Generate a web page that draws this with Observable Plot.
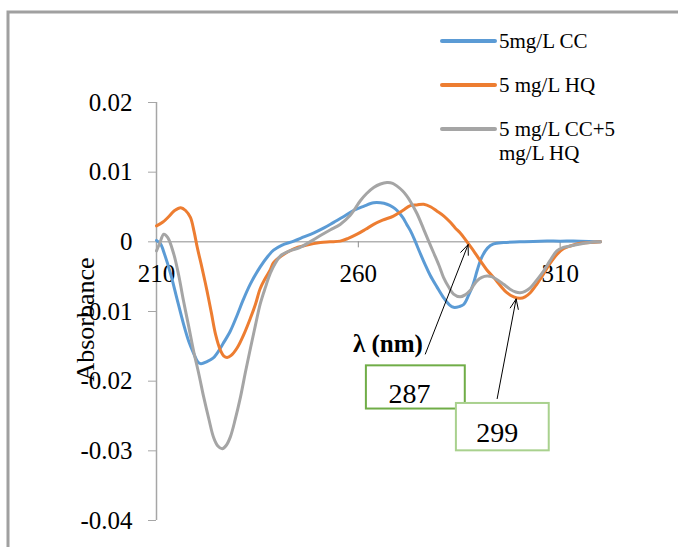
<!DOCTYPE html>
<html><head><meta charset="utf-8">
<script src="https://cdn.jsdelivr.net/npm/d3@7"></script>
<script src="https://cdn.jsdelivr.net/npm/@observablehq/plot@0.6"></script>
<style>
body{margin:0;background:#fff}
#chart{width:678px;height:547px;overflow:hidden}
</style>
</head><body><div id="chart"></div>
<script>
// ---- Data ----
const seriesNames = ["5mg/L CC", "5 mg/L HQ", "5 mg/L CC+5 mg/L HQ"];
const legendLines = [["5mg/L CC"], ["5 mg/L HQ"], ["5 mg/L CC+5", "mg/L HQ"]];
const seriesColors = ["#5B9BD5", "#ED7D31", "#A5A5A5"];

const ccWavelength = [210,211,212,213.5,215,216.7,218,219.2,220.2,221,222.5,224,225,226.5,228.3,230,231.5,233.3,235.7,237.7,239,241,244,246.5,249,251.5,253.9,256.3,258.8,261.3,263.8,265.5,267.1,268.5,269.6,271,272,272.9,274,275.3,276.5,277.8,279.5,281.1,282.5,283.6,285,286.1,287.3,288.5,289.5,290.6,292,293.5,296,300,305,310,315,320];
const ccAbsorbance = [0.0002,-0.0003,-0.0018,-0.0046,-0.008,-0.0118,-0.0143,-0.016,-0.0172,-0.0175,-0.0172,-0.0167,-0.016,-0.0146,-0.0128,-0.0105,-0.0083,-0.006,-0.0036,-0.002,-0.0012,-0.0005,0.0001,0.0007,0.0013,0.002,0.0028,0.0036,0.0045,0.0051,0.0056,0.0056,0.0054,0.005,0.0045,0.0035,0.0025,0.0016,0.0002,-0.0016,-0.0032,-0.0048,-0.0065,-0.008,-0.009,-0.0094,-0.0093,-0.009,-0.0077,-0.006,-0.004,-0.0022,-0.0009,-0.0003,-0.0001,0,0.0001,0.0001,0.0001,0];

const hqWavelength = [210,211.5,213,214.5,216,217.2,218.4,219.3,220.1,221.3,222.5,223.6,224.6,225.8,226.7,227.5,228.5,230,231.7,233.3,234.5,235.7,237,238.2,239,241,244,247,250.6,253,255.5,257.5,259.7,261.8,263.8,266,268.7,271,272.9,274.5,276.2,278,279.5,281.2,282.8,284,285.2,286.3,287.3,288.8,290.2,291.8,293.5,295.2,296.8,298.5,300.1,301.3,302.6,304.2,305.9,307.5,309.2,310.8,312.5,315,317.4,320];
const hqAbsorbance = [0.0023,0.0028,0.0036,0.0045,0.0049,0.0045,0.0035,0.0015,-0.0008,-0.0038,-0.007,-0.0102,-0.0132,-0.0155,-0.0164,-0.0166,-0.0163,-0.0152,-0.0132,-0.0109,-0.009,-0.0067,-0.0052,-0.004,-0.003,-0.002,-0.001,-0.0005,-0.0001,0,0.0001,0.0005,0.0011,0.0018,0.0025,0.0031,0.0037,0.0045,0.0052,0.0053,0.0054,0.005,0.0044,0.0037,0.0028,0.002,0.0013,0.0005,-0.0003,-0.0015,-0.0027,-0.004,-0.0051,-0.0063,-0.0073,-0.0079,-0.0081,-0.0079,-0.0073,-0.0061,-0.0046,-0.0031,-0.0018,-0.001,-0.0006,-0.0002,-0.0001,0];

const mixWavelength = [210,210.8,211.8,212.8,214.3,215.5,216.7,218,219.2,220.5,221.7,223,224.1,225.2,226.3,227.3,228.3,229.5,230.8,232,233.3,234.5,235.7,237,238.2,239.5,240.7,243,245.6,248,250.6,253,255.5,258,260.5,262,263.8,265.5,267.1,268.5,269.6,271,272,272.9,274.5,276.2,277.5,278.6,280,281.1,282.5,283.6,285.2,286.5,287.7,288.5,289.4,290.6,291.9,293,294.3,296,297.6,299,300.1,301.3,302.6,304.2,305.9,307.5,309.2,310.8,312.5,315,317.4,320];
const mixAbsorbance = [-0.0013,-0.0002,0.0011,0.0006,-0.0018,-0.0048,-0.0085,-0.0122,-0.0157,-0.019,-0.0223,-0.0255,-0.028,-0.0293,-0.0297,-0.0292,-0.028,-0.0255,-0.0223,-0.0188,-0.0152,-0.012,-0.0089,-0.0065,-0.0045,-0.003,-0.002,-0.0013,-0.0008,0,0.0009,0.0017,0.0025,0.0038,0.0059,0.0069,0.0078,0.0083,0.0085,0.0084,0.008,0.0073,0.0066,0.0058,0.0041,0.0018,0,-0.0015,-0.0034,-0.0051,-0.0066,-0.0075,-0.0079,-0.0076,-0.007,-0.0063,-0.0056,-0.0051,-0.0049,-0.005,-0.0054,-0.0061,-0.0068,-0.0072,-0.0073,-0.0071,-0.0066,-0.0055,-0.0042,-0.0027,-0.0013,-0.0008,-0.0006,-0.0003,-0.0001,0];

const xTicks = [210, 260, 310];
const yTicks = [-0.04, -0.03, -0.02, -0.01, 0, 0.01, 0.02];
const yTickLabels = ["-0.04", "-0.03", "-0.02", "-0.01", "0", "0.01", "0.02"];
const yTitle = "Absorbance";
const xTitle = "λ (nm)";
const peakLabels = ["287", "299"];

// ---- Build table ----
const wl = [ccWavelength, hqWavelength, mixWavelength];
const ab = [ccAbsorbance, hqAbsorbance, mixAbsorbance];
const rows = [];
seriesNames.forEach((s, k) => wl[k].forEach((w, i) => rows.push({series: s, nm: w, abs: ab[k][i]})));

const font = "'Liberation Serif','Times New Roman',serif";
const plot = Plot.plot({
  width: 678, height: 547,
  marginLeft: 156, marginRight: 78, marginTop: 102, marginBottom: 27,
  x: {domain: [210, 320], axis: null},
  y: {domain: [-0.04, 0.02], axis: null},
  color: {domain: seriesNames, range: seriesColors},
  style: {fontFamily: font, background: "white", color: "black"},
  marks: [
    Plot.ruleY([0], {stroke: "#8c8c8c", strokeWidth: 1}),
    Plot.ruleX([210], {y1: -0.04, y2: 0.02, stroke: "#a6a6a6", strokeWidth: 1.5}),
    Plot.axisY(yTicks, {label: null, tickSize: 8, tickPadding: 16, fontSize: 25, stroke: "#a6a6a6", fill: "black",
      tickFormat: d => yTickLabels[yTicks.indexOf(d)]}),
    Plot.ruleX(xTicks.slice(1), {x: d => d, y1: 0, y2: 0, insetBottom: -6, stroke: "#8c8c8c"}),
    Plot.text(xTicks, {x: d => d, y: 0, dy: 32, text: d => String(d), fontSize: 25, fill: "black"}),
    Plot.text([yTitle], {frameAnchor: "left", textAnchor: "middle", dx: -71, dy: 8, rotate: -90, fontSize: 26, fill: "black", text: d => d}),
    Plot.line(rows, {x: "nm", y: "abs", z: "series", stroke: "series", strokeWidth: 3, curve: "catmull-rom"}),
    Plot.text([xTitle], {x: 276, y: -0.0146, text: d => d, textAnchor: "end", fontWeight: "bold", fontSize: 25, fill: "black"}),
    Plot.arrow([0], {x1: 276.6, y1: -0.0161, x2: 287.2, y2: -0.0004, stroke: "black", strokeWidth: 1, headLength: 16, headAngle: 45}),
    Plot.arrow([0], {x1: 294.4, y1: -0.0225, x2: 299.1, y2: -0.0082, stroke: "black", strokeWidth: 1, headLength: 16, headAngle: 45}),
    Plot.rect([0], {x1: 262.0, x2: 286.5, y1: -0.0178, y2: -0.0240, fill: "white", stroke: "#70AD47", strokeWidth: 2}),
    Plot.text([peakLabels[0]], {x: 272.7, y: -0.0218, text: d => d, fontSize: 28, fill: "black"}),
    Plot.rect([0], {x1: 284.3, x2: 307.3, y1: -0.0232, y2: -0.0300, fill: "white", stroke: "#A9D18E", strokeWidth: 2}),
    Plot.text([peakLabels[1]], {x: 294.4, y: -0.0274, text: d => d, fontSize: 28, fill: "black"})
  ]
});

const svg = d3.select(plot);
// outer chart border (behind everything)
svg.insert("rect", ":first-child").attr("x", 8).attr("y", 12).attr("width", 720).attr("height", 600)
  .attr("fill", "none").attr("stroke", "#a0a0a0").attr("stroke-width", 3);
svg.insert("rect", ":first-child").attr("width", 678).attr("height", 547).attr("fill", "white");

// legend
const lg = svg.append("g").attr("font-family", font).attr("font-size", 21).attr("text-anchor", "start");
const legendY = [41, 85, 129];
legendLines.forEach((lines, k) => {
  lg.append("line").attr("x1", 442).attr("x2", 495).attr("y1", legendY[k]).attr("y2", legendY[k])
    .attr("stroke", seriesColors[k]).attr("stroke-width", 4).attr("stroke-linecap", "round");
  lines.forEach((t, j) => {
    lg.append("text").attr("x", 499).attr("y", legendY[k] + 7 + j * 24).attr("fill", "black").text(t);
  });
});

document.getElementById("chart").appendChild(plot);
</script>
</body></html>
